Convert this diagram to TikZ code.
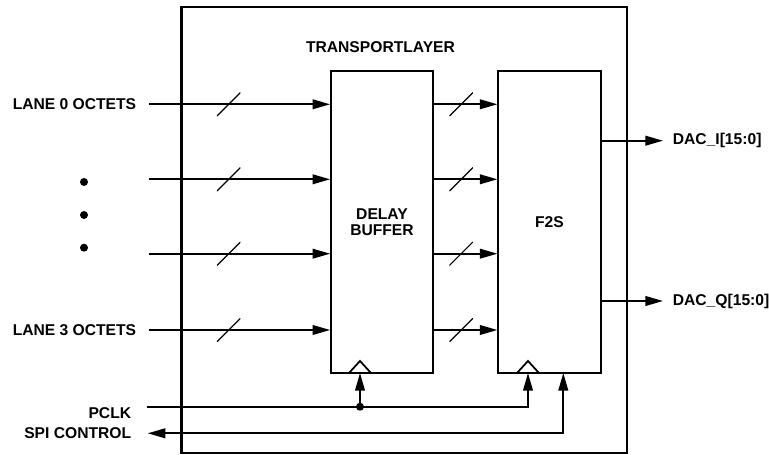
\documentclass[tikz,border=0pt]{standalone}
\usepackage{fontspec}
\setmainfont{Liberation Sans}
\usepackage{tikz}
\usetikzlibrary{arrows.meta,positioning,calc}

\begin{document}
\begin{tikzpicture}[x=0.02cm, y=-0.02cm, font=\bfseries\fontsize{8.9}{9.4}\selectfont, line width=1pt,
    block/.style={rectangle, draw, line width=1pt, minimum width=2.04cm, minimum height=6.04cm, align=center, inner sep=0pt},
    sig/.style={-{Triangle[length=10pt,width=5.5pt]}},
    bus/.style={draw=none, inner sep=0pt, minimum size=0.47cm, path picture={\draw[-, line width=0.7pt] (path picture bounding box.south west) -- (path picture bounding box.north east);}},
    lbl/.style={inner ysep=0pt, inner xsep=0.24cm}]
        \useasboundingbox (0,0) rectangle (769,455);
        \node[rectangle, draw, line width=1.3pt, minimum width=8.92cm, minimum height=8.92cm] (tl) at (404.4,229.7) {};
        \node (tltxt) at (380.5,46.7) {TRANSPORTLAYER};
        \node[block] (delay) at (382,222) {DELAY\\BUFFER};
        \node[block, minimum width=2.05cm] (ftos) at (549.5,222) {F2S};
        \node[lbl, anchor=east] (lane0) at (149,104.3) {LANE 0 OCTETS};
        \coordinate (lane1) at (149,179.3);
        \coordinate (lane2) at (149,253.7);
        \node[lbl, anchor=east] (lane3) at (149,330) {LANE 3 OCTETS};
        \foreach \y in {182,215,247.7} \fill (84,\y) circle (0.08cm);
        \foreach \n in {lane0,lane1,lane2,lane3} {
          \draw[sig] (\n) -- node[bus, pos=0.44] {} (\n -| delay.west);
          \draw[sig] (delay.east |- \n) -- node[bus, pos=0.43] {} (ftos.west |- \n);
        }
        \node[anchor=west, inner xsep=0.18cm, inner ysep=0pt] (daci) at (663,140.7) {DAC\_I[15:0]};
        \node[anchor=west, inner xsep=0.18cm, inner ysep=0pt] (dacq) at (663,301) {DAC\_Q[15:0]};
        \draw[sig] (ftos.east |- daci) -- (daci);
        \draw[sig] (ftos.east |- dacq) -- (dacq);
        \coordinate (dclk) at (360,373);
        \coordinate (fclk) at (528,373);
        \coordinate (fspi) at (563.3,373);
        \foreach \c in {dclk,fclk} \draw ($(\c)+(-11,0)$) -- ++(11,-12) -- ++(11,12);
        \node[anchor=east, inner sep=0pt] (pclk) at (132,413) {PCLK};
        \coordinate (pclkin) at (146.7,406.7);
        \draw[sig] (pclkin) -| (fclk);
        \coordinate (tap) at (dclk |- pclkin);
        \fill (tap) circle (0.08cm);
        \draw[sig] (tap) -- (dclk);
        \node[anchor=east, inner sep=0pt] (spi) at (132,433.3) {SPI CONTROL};
        \coordinate (spiout) at (147.7,433.3);
        \draw[{Triangle[length=10pt,width=5.5pt]}-{Triangle[length=10pt,width=5.5pt]}] (spiout) -| (fspi);
      \end{tikzpicture}
\end{document}
